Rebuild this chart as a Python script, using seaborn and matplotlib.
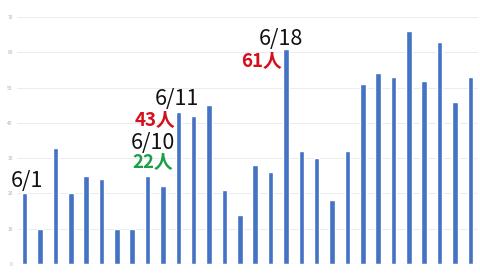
import matplotlib
matplotlib.use("Agg")
import matplotlib.pyplot as plt
import seaborn as sns
import pandas as pd

days = [f"6/{d}" for d in range(1, 31)]
cases = [20, 10, 33, 20, 25, 24, 10, 10, 25, 22,
         43, 42, 45, 21, 14, 28, 26, 61, 32, 30,
         18, 32, 51, 54, 53, 66, 52, 63, 46, 53]
yticks = [0, 10, 20, 30, 40, 50, 60, 70]

df = pd.DataFrame({"day": days, "cases": cases})

sns.set_theme(style="white")
plt.rcParams["font.family"] = ["Noto Sans CJK JP", "DejaVu Sans"]

fig = plt.figure(figsize=(4.8, 2.74), dpi=100)
ax = fig.add_axes([17 / 480, 10 / 274, 461 / 480, 247 / 274])

sns.barplot(data=df, x="day", y="cases", color="#4472C4", width=0.36,
            saturation=1, ax=ax, zorder=3)

ax.set_xlim(-0.5, 29.5)
ax.set_ylim(0, 70)
ax.set_yticks(yticks)
ax.set_yticklabels([str(t) for t in yticks], fontsize=3.5, color="#b0b0b0")
ax.tick_params(axis="y", length=0, pad=3)
ax.set_xticks([])
ax.set_xlabel("")
ax.set_ylabel("")
for t in yticks[1:]:
    ax.axhline(t, color="#ececec", lw=0.7, zorder=1)
ax.axhline(0, color="#d9d9d9", lw=0.8, zorder=4)
for s in ax.spines.values():
    s.set_visible(False)

date_kw = dict(fontsize=15.5, color="#111111", ha="center", va="center")
cnt_kw = dict(fontsize=13.5, fontweight="bold", ha="center", va="center")
ax.text(0.13, 23.5, "6/1", **date_kw)
ax.text(8.34, 34.4, "6/10", **date_kw)
ax.text(8.34, 28.9, "22人", color="#1E9E4A", **cnt_kw)
ax.text(8.47, 40.8, "43人", color="#D4101C", **cnt_kw)
ax.text(9.9, 46.7, "6/11", **date_kw)
ax.text(16.7, 63.7, "6/18", **date_kw)
ax.text(15.4, 57.5, "61人", color="#D4101C", **cnt_kw)

fig.savefig("out.png", dpi=100, facecolor="white")
